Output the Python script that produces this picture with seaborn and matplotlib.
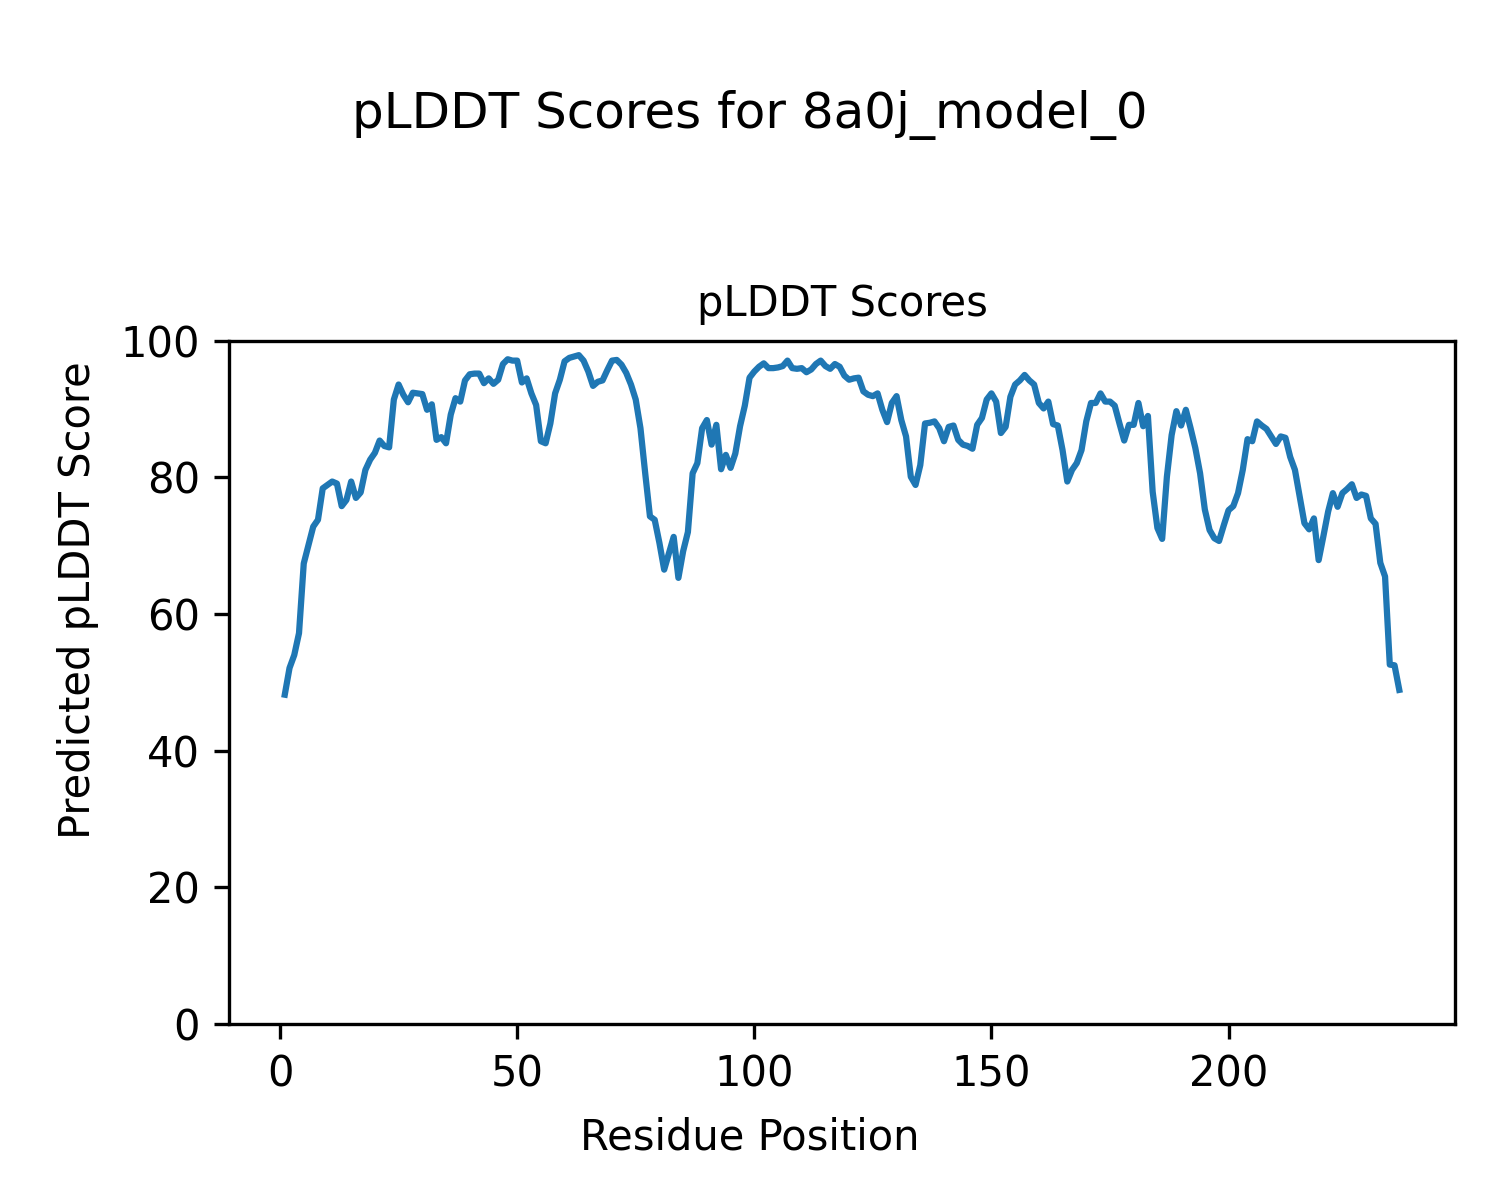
import numpy as np
import pandas as pd
import matplotlib
matplotlib.use("Agg")
import matplotlib.pyplot as plt
import seaborn as sns

title_main = "pLDDT Scores for 8a0j_model_0"
title_axes = "pLDDT Scores"
x_label = "Residue Position"
y_label = "Predicted pLDDT Score"

scores = [
    48.2, 52.1, 54.0, 57.2, 67.4, 70.1, 72.8, 73.8, 78.4, 78.9,
    79.4, 79.1, 75.8, 76.7, 79.4, 77.0, 77.8, 81.1, 82.6, 83.6,
    85.4, 84.6, 84.4, 91.4, 93.6, 92.1, 91.0, 92.4, 92.3, 92.2,
    89.9, 90.7, 85.5, 85.9, 85.0, 89.2, 91.6, 91.1, 94.2, 95.1,
    95.2, 95.2, 93.8, 94.5, 93.7, 94.3, 96.6, 97.3, 97.1, 97.1,
    93.9, 94.5, 92.3, 90.6, 85.3, 85.0, 87.9, 92.3, 94.3, 97.0,
    97.5, 97.7, 97.9, 97.1, 95.5, 93.4, 94.0, 94.2, 95.7, 97.1,
    97.2, 96.5, 95.3, 93.6, 91.4, 87.2, 80.6, 74.3, 73.8, 70.4,
    66.5, 68.9, 71.3, 65.3, 69.2, 72.0, 80.6, 82.1, 87.2, 88.4,
    84.8, 87.7, 81.2, 83.3, 81.4, 83.5, 87.5, 90.5, 94.6,
    95.5, 96.2, 96.7, 96.0, 96.0, 96.1, 96.3, 97.1, 96.0, 95.9, 96.0,
    95.4, 95.8, 96.6, 97.1, 96.3, 95.9, 96.6, 96.2, 94.9, 94.3,
    94.5, 94.6, 92.6, 92.1, 91.9, 92.3, 89.9, 88.1, 90.9, 91.9,
    88.4, 86.0, 80.1, 78.9, 81.8, 87.9, 88.0, 88.2, 87.2, 85.3,
    87.4, 87.6, 85.5, 84.8, 84.6, 84.2,
    87.7, 88.7, 91.4, 92.3, 91.1, 86.5, 87.4, 91.8, 93.6, 94.2,
    95.0, 94.2, 93.6, 90.9, 90.1, 91.1, 87.8, 87.6, 84.0, 79.4,
    81.1, 82.1, 84.0, 88.2, 90.9, 90.9, 92.3, 91.1, 91.1, 90.5,
    87.9, 85.4, 87.7, 87.7, 90.9, 87.5, 89.0, 77.9, 72.6, 71.0,
    80.1, 86.2, 89.7, 87.6, 89.9, 87.2, 84.3, 80.6, 75.3, 72.3,
    71.1, 70.7, 73.0, 75.2, 75.8, 77.7, 81.1, 85.6, 85.3, 88.2,
    87.6, 87.1, 86.0, 84.9, 86.0, 85.8, 83.0, 81.1, 77.2, 73.3,
    72.4, 74.0, 67.9, 71.4, 75.0, 77.7, 75.7, 77.7, 78.3, 79.0,
    77.0, 77.5, 77.3, 74.0, 73.2, 67.5, 65.5, 52.6, 52.5, 48.9,
]
residues = np.arange(1, len(scores) + 1)

df = pd.DataFrame({"residue": residues, "score": scores})

fig = plt.figure(figsize=(5, 4), dpi=300)
ax = fig.add_axes([0.1527, 0.1467, 0.8173, 0.5693])
sns.lineplot(data=df, x="residue", y="score", ax=ax, color="#1f77b4", linewidth=1.5)
ax.set_ylim(0, 100)
ax.set_yticks([0, 20, 40, 60, 80, 100])
ax.set_xticks([0, 50, 100, 150, 200])
ax.set_xlabel("")
ax.set_ylabel("")
ax.set_title(title_axes, fontsize=10)
fig.supxlabel(x_label, fontsize=10, x=0.5, y=0.0517, va="center")
fig.supylabel(y_label, fontsize=10, x=0.052, y=0.5, ha="center", va="center")
fig.suptitle(title_main, fontsize=12, y=0.925)

fig.savefig("out.png", dpi=300)
